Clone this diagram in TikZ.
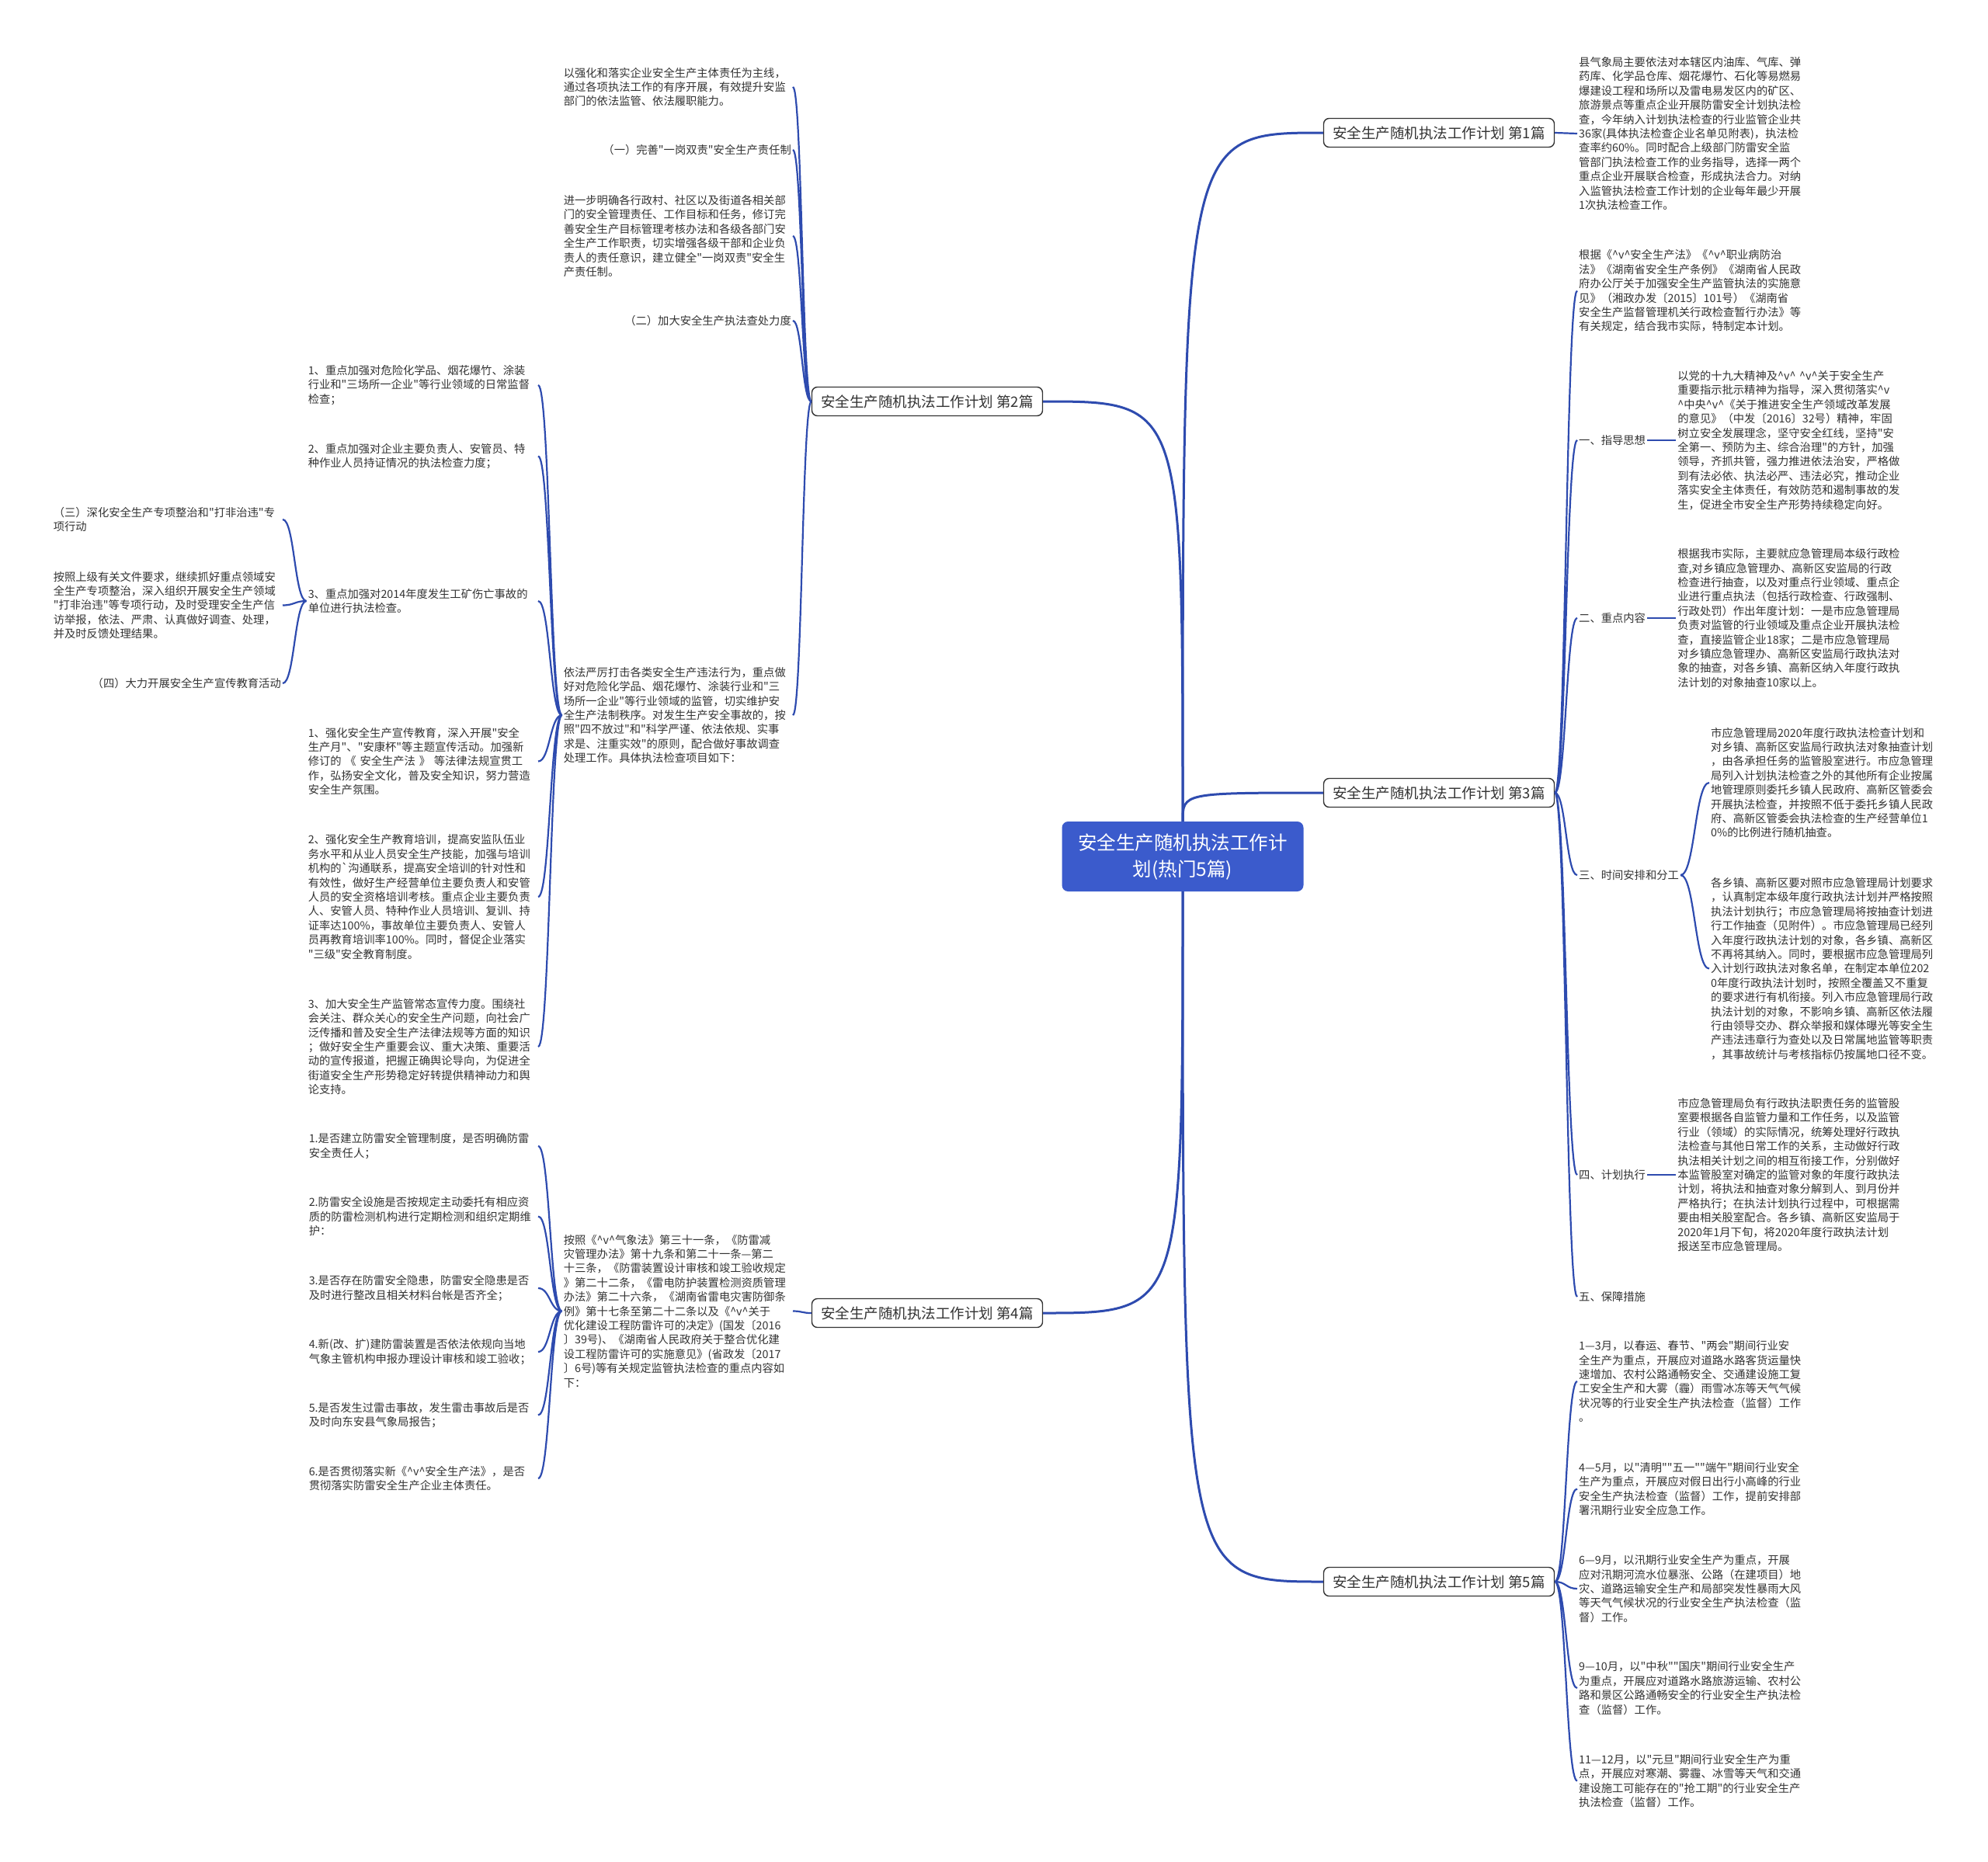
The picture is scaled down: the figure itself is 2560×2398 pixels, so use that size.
\documentclass[tikz,border=0pt]{standalone}
\usepackage{fontspec}
\setmainfont{Noto Sans CJK SC}[Ligatures=TeXOff]
\usetikzlibrary{positioning, calc}
\definecolor{hubblue}{HTML}{3B5BCC}
\definecolor{linkblue}{HTML}{2E4BAF}
\definecolor{inkgray}{HTML}{333333}
\newcommand{\carv}{\textasciicircum v\textasciicircum}

\begin{document}
\begin{tikzpicture}[
    x=1pt, y=-1pt,
    every node/.style={text=inkgray},
    hub/.style={rounded corners=8pt, fill=hubblue, text=white, align=center,
      minimum width=311pt, minimum height=90pt, inner sep=0pt,
      font=\fontsize{24.5}{34}\selectfont},
    plan/.style={draw=inkgray, line width=1.4pt, rounded corners=7pt, fill=white,
      minimum width=297pt, minimum height=37pt, inner sep=0pt,
      font=\fontsize{18.5}{22}\selectfont},
    note/.style={align=left, inner sep=2pt, font=\fontsize{14.3}{18.4}\selectfont},
    head/.style={inner sep=2pt, font=\fontsize{14.3}{18.4}\selectfont},
    trunk/.style={draw=linkblue, line width=3pt},
    twig/.style={draw=linkblue, line width=2.2pt,
      to path={let \p1=(\tikztostart), \p2=(\tikztotarget) in
        .. controls ({(\x1+\x2)/2},\y1) and ({(\x1+\x2)/2},\y2) .. (\tikztotarget)}},
  ]
  \fill[white] (0,0) rectangle (2560,2398);
  \useasboundingbox (0,0) rectangle (2560,2398);

  % centre and the five plans
  \node[hub] (hub) at (1523,1103) {安全生产随机执法工作计\\划(热门5篇)};
  \node[plan] (p1) at (1853,171) {安全生产随机执法工作计划 第1篇};
  \node[plan] (p2) at (1194,517) {安全生产随机执法工作计划 第2篇};
  \node[plan] (p3) at (1853,1021) {安全生产随机执法工作计划 第3篇};
  \node[plan] (p4) at (1194,1691) {安全生产随机执法工作计划 第4篇};
  \node[plan] (p5) at (1853,2037) {安全生产随机执法工作计划 第5篇};

  \draw[trunk] (hub.north) .. controls (hub.north |- p1.west) .. (p1.west);
  \draw[trunk] (hub.north) .. controls (hub.north |- p2.east) .. (p2.east);
  \draw[trunk] (hub.north) .. controls (hub.north |- p3.west) .. (p3.west);
  \draw[trunk] (hub.south) .. controls (hub.south |- p4.east) .. (p4.east);
  \draw[trunk] (hub.south) .. controls (hub.south |- p5.west) .. (p5.west);

  % plan 1
  \node[note, text width=290pt, anchor=west] (p1note) at (2031,172)
    {县气象局主要依法对本辖区内油库、气库、弹\\%
     药库、化学品仓库、烟花爆竹、石化等易燃易\\%
     爆建设工程和场所以及雷电易发区内的矿区、\\%
     旅游景点等重点企业开展防雷安全计划执法检\\%
     查，今年纳入计划执法检查的行业监管企业共\\%
     36家(具体执法检查企业名单见附表)，执法检\\%
     查率约60\%。同时配合上级部门防雷安全监\\%
     管部门执法检查工作的业务指导，选择一两个\\%
     重点企业开展联合检查，形成执法合力。对纳\\%
     入监管执法检查工作计划的企业每年最少开展\\%
     1次执法检查工作。};
  \draw[twig] (p1.east) to (p1note.west);

  % plan 3
  \node[note, text width=290pt, anchor=west] (p3intro) at (2031,374.5)
    {根据《\carv{}安全生产法》《\carv{}职业病防治\\%
     法》《湖南省安全生产条例》《湖南省人民政\\%
     府办公厅关于加强安全生产监管执法的实施意\\%
     见》（湘政办发〔2015〕101号）《湖南省\\%
     安全生产监督管理机关行政检查暂行办法》等\\%
     有关规定，结合我市实际，特制定本计划。};
  \node[head, anchor=west] (h1) at (2031,567) {一、指导思想};
  \node[head, anchor=west] (h2) at (2031,796) {二、重点内容};
  \node[head, anchor=west] (h3) at (2031,1127) {三、时间安排和分工};
  \node[head, anchor=west] (h4) at (2031,1513) {四、计划执行};
  \node[head, anchor=west] (h5) at (2031,1670) {五、保障措施};

  \node[note, text width=292pt, right=37pt of h1] (h1note)
    {以党的十九大精神及\carv{} \carv{}关于安全生产\\%
     重要指示批示精神为指导，深入贯彻落实\textasciicircum v\\%
     \textasciicircum 中央\carv{}《关于推进安全生产领域改革发展\\%
     的意见》（中发〔2016〕32号）精神，牢固\\%
     树立安全发展理念，坚守安全红线，坚持"安\\%
     全第一、预防为主、综合治理"的方针，加强\\%
     领导，齐抓共管，强力推进依法治安，严格做\\%
     到有法必依、执法必严、违法必究，推动企业\\%
     落实安全主体责任，有效防范和遏制事故的发\\%
     生，促进全市安全生产形势持续稳定向好。};
  \node[note, text width=292pt, right=37pt of h2] (h2note)
    {根据我市实际，主要就应急管理局本级行政检\\%
     查,对乡镇应急管理办、高新区安监局的行政\\%
     检查进行抽查，以及对重点行业领域、重点企\\%
     业进行重点执法（包括行政检查、行政强制、\\%
     行政处罚）作出年度计划：一是市应急管理局\\%
     负责对监管的行业领域及重点企业开展执法检\\%
     查，直接监管企业18家；二是市应急管理局\\%
     对乡镇应急管理办、高新区安监局行政执法对\\%
     象的抽查，对各乡镇、高新区纳入年度行政执\\%
     法计划的对象抽查10家以上。};
  \node[note, text width=295pt, anchor=west] (h3early) at (2201,1008)
    {市应急管理局2020年度行政执法检查计划和\\%
     对乡镇、高新区安监局行政执法对象抽查计划\\%
     ，由各承担任务的监管股室进行。市应急管理\\%
     局列入计划执法检查之外的其他所有企业按属\\%
     地管理原则委托乡镇人民政府、高新区管委会\\%
     开展执法检查，并按照不低于委托乡镇人民政\\%
     府、高新区管委会执法检查的生产经营单位1\\%
     0\%的比例进行随机抽查。};
  \node[note, text width=295pt, anchor=west] (h3late) at (2201,1247.5)
    {各乡镇、高新区要对照市应急管理局计划要求\\%
     ，认真制定本级年度行政执法计划并严格按照\\%
     执法计划执行；市应急管理局将按抽查计划进\\%
     行工作抽查（见附件）。市应急管理局已经列\\%
     入年度行政执法计划的对象，各乡镇、高新区\\%
     不再将其纳入。同时，要根据市应急管理局列\\%
     入计划行政执法对象名单，在制定本单位202\\%
     0年度行政执法计划时，按照全覆盖又不重复\\%
     的要求进行有机衔接。列入市应急管理局行政\\%
     执法计划的对象，不影响乡镇、高新区依法履\\%
     行由领导交办、群众举报和媒体曝光等安全生\\%
     产违法违章行为查处以及日常属地监管等职责\\%
     ，其事故统计与考核指标仍按属地口径不变。};
  \node[note, text width=292pt, right=37pt of h4] (h4note)
    {市应急管理局负有行政执法职责任务的监管股\\%
     室要根据各自监管力量和工作任务，以及监管\\%
     行业（领域）的实际情况，统筹处理好行政执\\%
     法检查与其他日常工作的关系，主动做好行政\\%
     执法相关计划之间的相互衔接工作，分别做好\\%
     本监管股室对确定的监管对象的年度行政执法\\%
     计划，将执法和抽查对象分解到人、到月份并\\%
     严格执行；在执法计划执行过程中，可根据需\\%
     要由相关股室配合。各乡镇、高新区安监局于\\%
     2020年1月下旬，将2020年度行政执法计划\\%
     报送至市应急管理局。};

  \draw[twig] (p3.east) to (p3intro.west) (p3.east) to (h1.west)
    (p3.east) to (h2.west) (p3.east) to (h3.west)
    (p3.east) to (h4.west) (p3.east) to (h5.west);
  \draw[twig] (h1.east) to (h1note.west);
  \draw[twig] (h2.east) to (h2note.west);
  \draw[twig] (h3.east) to (h3early.west) (h3.east) to (h3late.west);
  \draw[twig] (h4.east) to (h4note.west);

  % plan 5
  \node[note, text width=292pt, anchor=west] (q1) at (2031,1779)
    {1—3月，以春运、春节、"两会"期间行业安\\%
     全生产为重点，开展应对道路水路客货运量快\\%
     速增加、农村公路通畅安全、交通建设施工复\\%
     工安全生产和大雾（霾）雨雪冰冻等天气气候\\%
     状况等的行业安全生产执法检查（监督）工作\\%
     。};
  \node[note, text width=292pt, anchor=west] (q2) at (2031,1917.5)
    {4—5月，以"清明""五一""端午"期间行业安全\\%
     生产为重点，开展应对假日出行小高峰的行业\\%
     安全生产执法检查（监督）工作，提前安排部\\%
     署汛期行业安全应急工作。};
  \node[note, text width=292pt, anchor=west] (q3) at (2031,2046)
    {6—9月，以汛期行业安全生产为重点，开展\\%
     应对汛期河流水位暴涨、公路（在建项目）地\\%
     灾、道路运输安全生产和局部突发性暴雨大风\\%
     等天气气候状况的行业安全生产执法检查（监\\%
     督）工作。};
  \node[note, text width=292pt, anchor=west] (q4) at (2031,2174)
    {9—10月，以"中秋""国庆"期间行业安全生产\\%
     为重点，开展应对道路水路旅游运输、农村公\\%
     路和景区公路通畅安全的行业安全生产执法检\\%
     查（监督）工作。};
  \node[note, text width=292pt, anchor=west] (q5) at (2031,2293.5)
    {11—12月，以"元旦"期间行业安全生产为重\\%
     点，开展应对寒潮、雾霾、冰雪等天气和交通\\%
     建设施工可能存在的"抢工期"的行业安全生产\\%
     执法检查（监督）工作。};
  \draw[twig] (p5.east) to (q1.west) (p5.east) to (q2.west)
    (p5.east) to (q3.west) (p5.east) to (q4.west) (p5.east) to (q5.west);

  % plan 2
  \node[note, text width=293pt, anchor=east] (p2aim) at (1021,112)
    {以强化和落实企业安全生产主体责任为主线，\\%
     通过各项执法工作的有序开展，有效提升安监\\%
     部门的依法监管、依法履职能力。};
  \node[note, anchor=east] (p2duty) at (1021,193) {（一）完善"一岗双责"安全生产责任制};
  \node[note, text width=293pt, anchor=east] (p2dutynote) at (1021,304)
    {进一步明确各行政村、社区以及街道各相关部\\%
     门的安全管理责任、工作目标和任务，修订完\\%
     善安全生产目标管理考核办法和各级各部门安\\%
     全生产工作职责，切实增强各级干部和企业负\\%
     责人的责任意识，建立健全"一岗双责"安全生\\%
     产责任制。};
  \node[note, anchor=east] (p2check) at (1021,413) {（二）加大安全生产执法查处力度};
  \node[note, text width=293pt, anchor=east] (p2law) at (1021,921)
    {依法严厉打击各类安全生产违法行为，重点做\\%
     好对危险化学品、烟花爆竹、涂装行业和"三\\%
     场所一企业"等行业领域的监管，切实维护安\\%
     全生产法制秩序。对发生生产安全事故的，按\\%
     照"四不放过"和"科学严谨、依法依规、实事\\%
     求是、注重实效"的原则，配合做好事故调查\\%
     处理工作。具体执法检查项目如下：};

  \node[note, text width=294pt, anchor=east] (chk1) at (693,496)
    {1、重点加强对危险化学品、烟花爆竹、涂装\\%
     行业和"三场所一企业"等行业领域的日常监督\\%
     检查；};
  \node[note, text width=294pt, anchor=east] (chk2) at (693,587.5)
    {2、重点加强对企业主要负责人、安管员、特\\%
     种作业人员持证情况的执法检查力度；};
  \node[note, text width=294pt, anchor=east] (chk3) at (693,774)
    {3、重点加强对2014年度发生工矿伤亡事故的\\%
     单位进行执法检查。};
  \node[note, text width=294pt, anchor=east] (edu1) at (693,980.5)
    {1、强化安全生产宣传教育，深入开展"安全\\%
     生产月"、"安康杯"等主题宣传活动。加强新\\%
     修订的 《 安全生产法 》 等法律法规宣贯工\\%
     作，弘扬安全文化，普及安全知识，努力营造\\%
     安全生产氛围。};
  \node[note, text width=294pt, anchor=east] (edu2) at (693,1155)
    {2、强化安全生产教育培训，提高安监队伍业\\%
     务水平和从业人员安全生产技能，加强与培训\\%
     机构的\textasciigrave 沟通联系，提高安全培训的针对性和\\%
     有效性，做好生产经营单位主要负责人和安管\\%
     人员的安全资格培训考核。重点企业主要负责\\%
     人、安管人员、特种作业人员培训、复训、持\\%
     证率达100\%，事故单位主要负责人、安管人\\%
     员再教育培训率100\%。同时，督促企业落实\\%
     "三级"安全教育制度。};
  \node[note, text width=294pt, anchor=east] (edu3) at (693,1348)
    {3、加大安全生产监管常态宣传力度。围绕社\\%
     会关注、群众关心的安全生产问题，向社会广\\%
     泛传播和普及安全生产法律法规等方面的知识\\%
     ；做好安全生产重要会议、重大决策、重要活\\%
     动的宣传报道，把握正确舆论导向，为促进全\\%
     街道安全生产形势稳定好转提供精神动力和舆\\%
     论支持。};

  \node[note, text width=293pt, anchor=east] (sub3) at (364,669)
    {（三）深化安全生产专项整治和"打非治违"专\\%
     项行动};
  \node[note, text width=293pt, anchor=east] (sub3note) at (364,779.5)
    {按照上级有关文件要求，继续抓好重点领域安\\%
     全生产专项整治，深入组织开展安全生产领域\\%
     "打非治违"等专项行动，及时受理安全生产信\\%
     访举报，依法、严肃、认真做好调查、处理，\\%
     并及时反馈处理结果。};
  \node[note, anchor=east] (sub4) at (364,880) {（四）大力开展安全生产宣传教育活动};

  \draw[twig] (p2.west) to (p2aim.east) (p2.west) to (p2duty.east)
    (p2.west) to (p2dutynote.east) (p2.west) to (p2check.east)
    (p2.west) to (p2law.east);
  \draw[twig] (p2law.west) to (chk1.east) (p2law.west) to (chk2.east)
    (p2law.west) to (chk3.east) (p2law.west) to (edu1.east)
    (p2law.west) to (edu2.east) (p2law.west) to (edu3.east);
  \draw[twig] (chk3.west) to (sub3.east) (chk3.west) to (sub3note.east)
    (chk3.west) to (sub4.east);

  % plan 4
  \node[note, text width=293pt, anchor=east] (p4law) at (1021,1688.5)
    {按照《\carv{}气象法》第三十一条，《防雷减\\%
     灾管理办法》第十九条和第二十一条—第二\\%
     十三条，《防雷装置设计审核和竣工验收规定\\%
     》第二十二条，《雷电防护装置检测资质管理\\%
     办法》第二十六条，《湖南省雷电灾害防御条\\%
     例》第十七条至第二十二条以及《\carv{}关于\\%
     优化建设工程防雷许可的决定》(国发〔2016\\%
     〕39号)、《湖南省人民政府关于整合优化建\\%
     设工程防雷许可的实施意见》(省政发〔2017\\%
     〕6号)等有关规定监管执法检查的重点内容如\\%
     下：};
  \node[note, text width=293pt, anchor=east] (lp1) at (693,1476)
    {1.是否建立防雷安全管理制度，是否明确防雷\\%
     安全责任人；};
  \node[note, text width=293pt, anchor=east] (lp2) at (693,1566.5)
    {2.防雷安全设施是否按规定主动委托有相应资\\%
     质的防雷检测机构进行定期检测和组织定期维\\%
     护：};
  \node[note, text width=293pt, anchor=east] (lp3) at (693,1659)
    {3.是否存在防雷安全隐患，防雷安全隐患是否\\%
     及时进行整改且相关材料台帐是否齐全；};
  \node[note, text width=293pt, anchor=east] (lp4) at (693,1741)
    {4.新(改、扩)建防雷装置是否依法依规向当地\\%
     气象主管机构申报办理设计审核和竣工验收；};
  \node[note, text width=293pt, anchor=east] (lp5) at (693,1822.5)
    {5.是否发生过雷击事故，发生雷击事故后是否\\%
     及时向东安县气象局报告；};
  \node[note, text width=293pt, anchor=east] (lp6) at (693,1904)
    {6.是否贯彻落实新《\carv{}安全生产法》，是否\\%
     贯彻落实防雷安全生产企业主体责任。};

  \draw[twig] (p4.west) to (p4law.east);
  \draw[twig] (p4law.west) to (lp1.east) (p4law.west) to (lp2.east)
    (p4law.west) to (lp3.east) (p4law.west) to (lp4.east)
    (p4law.west) to (lp5.east) (p4law.west) to (lp6.east);
\end{tikzpicture}
\end{document}
